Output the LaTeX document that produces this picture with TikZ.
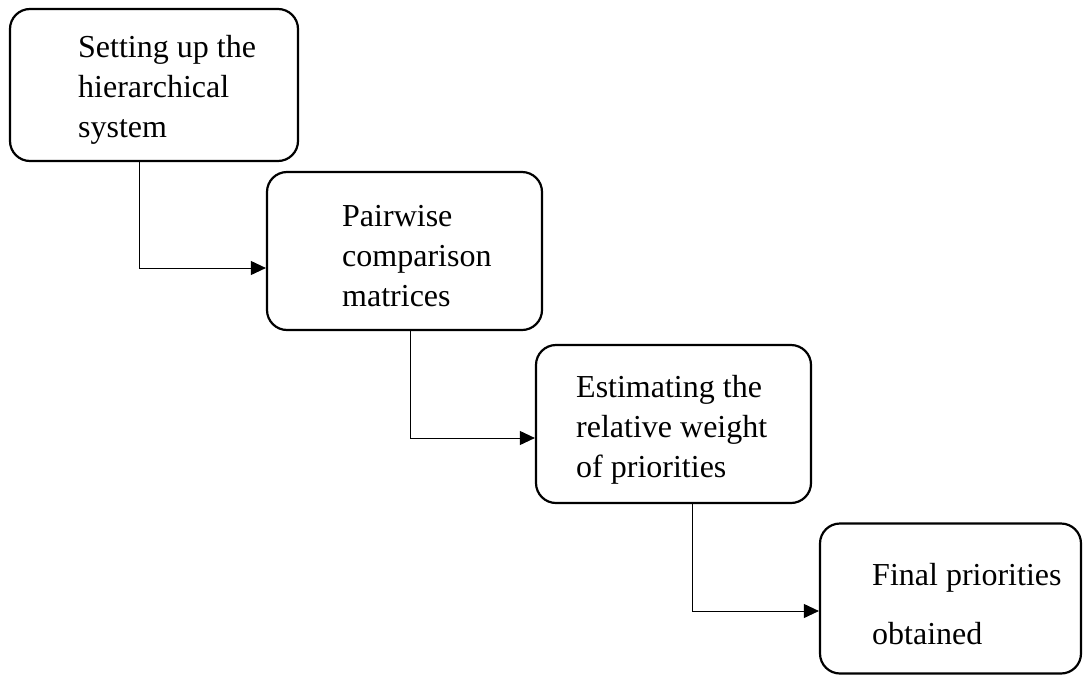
\documentclass[tikz,border=0pt]{standalone}
\usepackage{fontspec}
\setmainfont{Liberation Serif}
\usetikzlibrary{arrows.meta}
\begin{document}
\begin{tikzpicture}[x=1pt,y=-1pt,
  box/.style={draw=black, line width=2.2pt, rounded corners=20pt, inner sep=0pt},
  label/.style={anchor=base west, inner sep=0pt, align=left, font=\fontsize{32}{40}\selectfont},
  conn/.style={draw=black, line width=0.9pt, -{Triangle[length=15pt,width=14pt]}}]
\useasboundingbox (0,0) rectangle (1084,675);
% boxes
\node[box, minimum width=288pt, minimum height=152pt] (b1) at (154,85) {};
\node[box, minimum width=275pt, minimum height=158pt] (b2) at (404.5,251) {};
\node[box, minimum width=275pt, minimum height=158pt] (b3) at (673.5,424) {};
\node[box, minimum width=261pt, minimum height=150pt] (b4) at (950.5,598.5) {};
% texts (base anchor = baseline of last line)
\node[label] (t1) at (78,137) {Setting up the\\hierarchical\\system};
\node[label] (t2) at (342,306) {Pairwise\\comparison\\matrices};
\node[label] (t3) at (576,477) {Estimating the\\relative weight\\of priorities};
\node[label, font=\fontsize{32}{59}\selectfont] (t4) at (872,644) {Final priorities\\obtained};
% connectors
\coordinate (k1) at (139,268);
\coordinate (k2) at (410,438);
\coordinate (k3) at (692,611);
\draw[conn] (b1.south -| k1) -- (k1) -- (b2.west |- k1);
\draw[conn] (b2.south -| k2) -- (k2) -- (b3.west |- k2);
\draw[conn] (b3.south -| k3) -- (k3) -- (b4.west |- k3);
\end{tikzpicture}
\end{document}
